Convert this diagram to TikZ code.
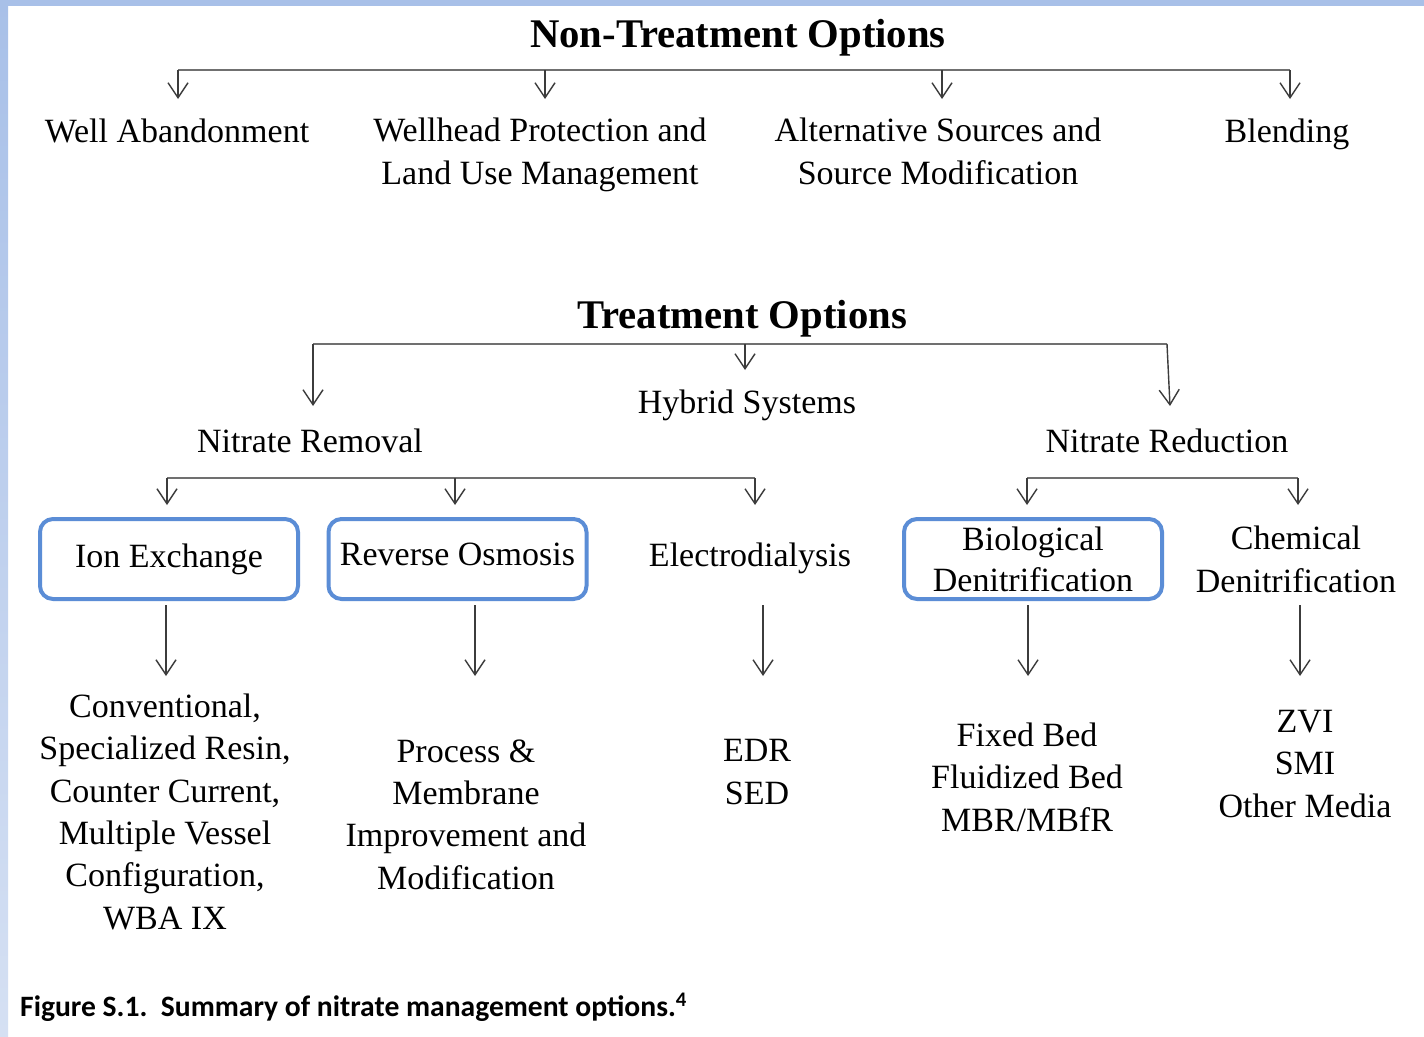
\documentclass[tikz,border=0pt]{standalone}
\usepackage{fontspec}
\setmainfont{Liberation Serif}
\newfontfamily\capfont{Carlito}
\usetikzlibrary{arrows.meta}
\definecolor{boxblue}{HTML}{5B8DD6}
\definecolor{edgeblue}{HTML}{A8C0E8}
\definecolor{edgeblue2}{HTML}{D5E0F3}
\definecolor{linegray}{HTML}{707070}
\definecolor{arrgray}{HTML}{3C3C3C}
\begin{document}
\begin{tikzpicture}[x=1pt,y=-1pt,
 lbl/.style={font=\fontsize{34}{42.3}\selectfont, align=center, inner sep=0pt, anchor=base},
 ttl/.style={font=\fontsize{40.7}{46}\selectfont\bfseries, inner sep=0pt, anchor=base},
 optbox/.style={draw=boxblue, line width=4pt, rounded corners=13pt, minimum width=258pt, minimum height=80pt, inner sep=0pt, align=center, font=\fontsize{34}{41}\selectfont},
 bar/.style={draw=linegray, line width=1.5pt},
 arr/.style={draw=arrgray, line width=1.4pt, -{Straight Barb[length=15pt,width=20pt]}}
]
\useasboundingbox (0,0) rectangle (1424,1036);
\fill[white] (0,0) rectangle (1424,1036);
\begin{scope}[y=1pt]
\shade[top color=edgeblue, bottom color=edgeblue2] (0,0) rectangle (8,-1036);
\end{scope}
\fill[edgeblue] (0,0) rectangle (1424,6);

% Non-treatment
\node[ttl] (nto) at (738,47) {Non-Treatment Options};
\node[lbl] (wa) at (177,142) {Well Abandonment};
\node[lbl] (wp) at (540,184) {Wellhead Protection and\\Land Use Management};
\node[lbl] (as) at (938,184) {Alternative Sources and\\Source Modification};
\node[lbl] (bl) at (1287,142) {Blending};
\foreach \n/\x in {a/178,b/545,c/942,d/1290}{
  \coordinate (nt\n) at (\x,70);
  \coordinate (nt\n e) at (\x,99);
}
\draw[bar] (nta) -- (ntd);
\foreach \n in {a,b,c,d} \draw[arr] (nt\n) -- (nt\n e);

% Treatment
\node[ttl] (to) at (742,328) {Treatment Options};
\node[lbl] (hy) at (747,413) {Hybrid Systems};
\node[lbl] (nrm) at (310,452) {Nitrate Removal};
\node[lbl] (nrd) at (1167,452) {Nitrate Reduction};
\coordinate (tL) at (313,344); \coordinate (tLe) at (313,406);
\coordinate (tM) at (745,344); \coordinate (tMe) at (745,370);
\coordinate (tR) at (1167,344); \coordinate (tRe) at (1170,406);
\draw[bar] (tL) -- (tR);
\draw[arr] (tL) -- (tLe);
\draw[arr] (tM) -- (tMe);
\draw[arr] (tR) -- (tRe);

% second level
\foreach \n/\x in {a/167,b/455,c/755,d/1027,e/1298}{
  \coordinate (s\n) at (\x,478);
  \coordinate (s\n e) at (\x,505);
}
\draw[bar] (sa) -- (sc);
\draw[bar] (sd) -- (se);
\foreach \n in {a,b,c,d,e} \draw[arr] (s\n) -- (s\n e);

\node[optbox] (ix) at (169,559) {Ion Exchange};
\node[optbox, text depth=9pt] (ro) at (457.5,559) {Reverse Osmosis};
\node[lbl] (ed) at (750,566) {Electrodialysis};
\node[optbox] (bd) at (1033,559) {Biological\\Denitrification};
\node[lbl] (cd) at (1296,592) {Chemical\\Denitrification};

% third level arrows
\foreach \n/\x in {a/166,b/475,c/763,d/1028,e/1300}{
  \coordinate (b\n) at (\x,605);
  \coordinate (b\n e) at (\x,676);
  \draw[arr] (b\n) -- (b\n e);
}

\node[lbl] (ixo) at (165,929) {Conventional,\\Specialized Resin,\\Counter Current,\\Multiple Vessel\\Configuration,\\WBA IX};
\node[lbl] (roo) at (466,889) {Process \&\\Membrane\\Improvement and\\Modification};
\node[lbl] (edo) at (757,804) {EDR\\SED};
\node[lbl] (bdo) at (1027,831) {Fixed Bed\\Fluidized Bed\\MBR/MBfR};
\node[lbl] (cdo) at (1305,817) {ZVI\\SMI\\Other Media};

\node[anchor=base west, inner sep=0pt, font={\capfont\bfseries\fontsize{29.6}{34}\selectfont}] (cap) at (20,1016) {Figure S.1.\ \ Summary of nitrate management options.\textsuperscript{4}};
\end{tikzpicture}
\end{document}
